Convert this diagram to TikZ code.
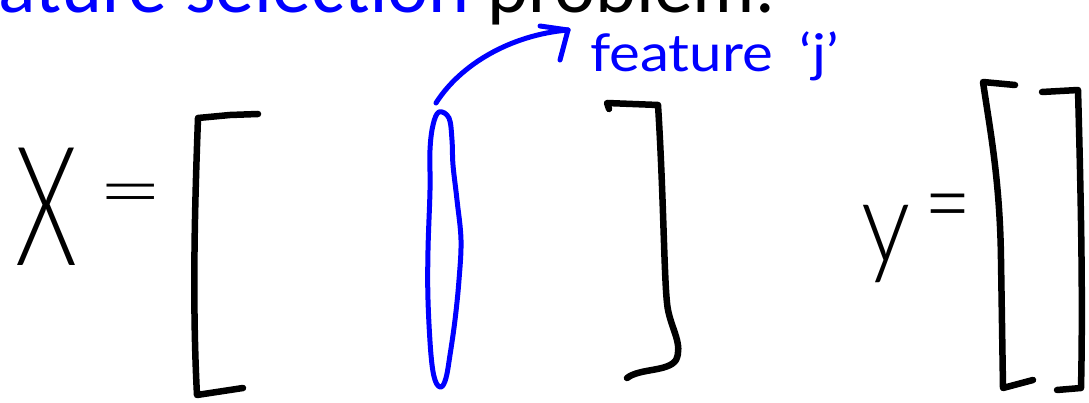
\documentclass[tikz,border=0pt]{standalone}
\usepackage{graphicx}
\usepackage{fontspec}
\setmainfont{Carlito}
\newfontfamily\hand{Lato Light}
\newfontfamily\handb{Lato}
\begin{document}
\begin{tikzpicture}[x=1pt,y=-1pt,
  ink/.style={line width=6.5pt,line cap=round,line join=round,black},
  bink/.style={line width=5pt,line cap=round,line join=round,blue},
  hw/.style={inner sep=0pt,outer sep=0pt}]
\useasboundingbox (0,0) rectangle (1089,403);
\clip (0,0) rectangle (1089,403);
% title (cut off at top)
\node[hw,anchor=base east,font=\fontsize{78}{90}\selectfont] (title) at (775,13)
  {\textcolor{blue}{feature selection} problem.};
% X = [ ... ]
\node[hw,font=\hand\fontsize{166}{180}\selectfont] (X) at (47,207) {\scalebox{0.6}[1]{X}};
\node[hw,anchor=base,font=\hand\fontsize{79}{90}\selectfont] (eqX) at (131,219) {\scalebox{1.45}[1]{=}};
\draw[ink] (258,114) -- (230,115) -- (198,118) .. controls (195,200) and (192,300) .. (197,395) -- (243,388);
\draw[ink] (609,109) -- (607,103) -- (658,105) .. controls (664,200) and (664,290) .. (668,310)
  .. controls (672,330) and (683,345) .. (676,360) .. controls (668,372) and (640,368) .. (627,378);
% blue column
\draw[bink] plot[smooth cycle,tension=0.6] coordinates {(439,112) (449,118) (452,140) (453,165) (457,200) (461,240) (459,280) (455,320) (450,355) (446,378) (441,387) (435,380) (431,355) (428,300) (428,250) (430,190) (430,150) (433,125)};
\coordinate (etop) at (436,103);
\node[hw,anchor=base west,text=blue,font=\handb\fontsize{52}{60}\selectfont] (fj) at (590,72) {\scalebox{1.12}[1]{feature\hspace{24pt}‘j’}};
\coordinate (atip) at (568,30);
\draw[bink] (etop) .. controls (460,65) and (510,35) .. (atip);
\draw[bink] (atip) -- ++(-28,-4);
\draw[bink] (atip) -- ++(-8,30);
% y = [ ]
\node[hw,anchor=base,font=\hand\fontsize{115}{125}\selectfont] (y) at (886,262) {\scalebox{0.85}[1]{y}};
\node[hw,anchor=base,font=\hand\fontsize{100}{110}\selectfont] (eqy) at (948,238) {\scalebox{0.81}[1]{=}};
\draw[ink] (1015,85) -- (983,82) .. controls (990,130) and (1000,180) .. (1001,260) -- (1003,388) -- (1033,380);
\draw[ink] (1042,92) -- (1078,90) .. controls (1081,200) and (1083,300) .. (1081,388) -- (1057,390);
\end{tikzpicture}
\end{document}
